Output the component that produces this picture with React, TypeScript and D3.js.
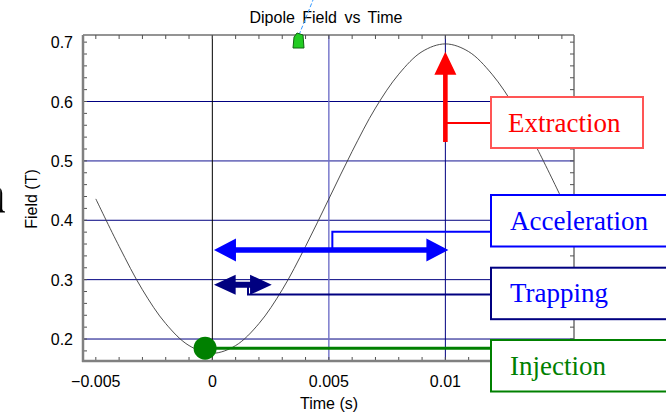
import React from "react";
import * as d3 from "d3";

// dipole field curve (s, T)
const times = [-0.005, -0.004, -0.003, -0.002, -0.001, 0, 0.001, 0.002, 0.003, 0.004, 0.005,
  0.006, 0.007, 0.008, 0.009, 0.01, 0.011, 0.012, 0.013, 0.014, 0.015];
const field = [0.436, 0.356, 0.283, 0.226, 0.189, 0.176, 0.189, 0.226, 0.283, 0.356, 0.436,
  0.516, 0.589, 0.646, 0.684, 0.697, 0.684, 0.646, 0.589, 0.516, 0.436];

const xTicks = [-0.005, 0, 0.005, 0.01];
const xTickLabels = ["\u22120.005", "0", "0.005", "0.01"];
const yTicks = [0.2, 0.3, 0.4, 0.5, 0.6, 0.7];
const yTickLabels = ["0.2", "0.3", "0.4", "0.5", "0.6", "0.7"];
const xGrid = [0, 0.005, 0.01];
const xGridColors = ["#000000", "#7070c8", "#000080"];
const yGrid = [0.2, 0.3, 0.4, 0.5, 0.6];
const yGridColors = ["#000080", "#000080", "#000080", "#7878c0", "#000080"];

// annotation anchors in data units
const extraction = { t: 0.01, from: 0.532, to: 0.684 };
const acceleration = { from: 0.00007, to: 0.01013, b: 0.35 };
const trapping = { from: 0.00007, to: 0.00255, b: 0.2915 };
const injection = { t: -0.00031, b: 0.1845 };

const W = 666, H = 413;
const left = 83, right = 574, top = 35, bottom = 361;

const x = d3.scaleLinear().domain([-0.00555, 0.01552]).range([left, right]);
const y = d3.scaleLinear().domain([0.163, 0.712]).range([bottom, top]);

const sans = "'Liberation Sans', Arial, sans-serif";
const serif = "'Liberation Serif', 'Times New Roman', serif";

function dblArrow(x1: number, x2: number, yy: number, hl: number, hh: number, st: number) {
  const p = [[x1, yy], [x1 + hl, yy - hh], [x1 + hl, yy - st], [x2 - hl, yy - st], [x2 - hl, yy - hh],
    [x2, yy], [x2 - hl, yy + hh], [x2 - hl, yy + st], [x1 + hl, yy + st], [x1 + hl, yy + hh]];
  return p.map(d => d.join(",")).join(" ");
}

export default function App() {
  const line = d3.line<number>()
    .x((d, i) => x(times[i]))
    .y(d => y(d))
    .curve(d3.curveCatmullRom);

  const minorX = d3.range(-5, 16).map(k => k / 1000);
  const minorY = d3.range(9, 36).map(k => k / 50);

  const ex = x(extraction.t);
  const exTip = y(extraction.to), exBot = y(extraction.from);
  const accY = y(acceleration.b);
  const trY = y(trapping.b);
  const injX = x(injection.t), injY = y(injection.b);
  const boxX = 491;

  return (
    <div style={{ position: "fixed", left: 0, top: 0 }}>
      <svg width={W} height={H} style={{ display: "block", background: "#fff" }}>
        {/* fragment of a glyph cut by the left edge */}
        <path d="M0.2,188 Q2.2,190 2.2,193 V209 Q2.4,211 5,211.5 V212.5 H0 Z" fill="#000" />

        {/* grid */}
        {yGrid.map((v, i) => (
          <line key={"gy" + i} x1={left} x2={right} y1={y(v)} y2={y(v)}
            stroke={yGridColors[i]} strokeWidth={i === 3 ? 1.6 : 1} />
        ))}
        {xGrid.map((v, i) => (
          <line key={"gx" + i} x1={x(v)} x2={x(v)} y1={top} y2={bottom}
            stroke={xGridColors[i]} strokeWidth={i === 1 ? 1.4 : 1} />
        ))}

        {/* curve */}
        <path d={line(field) || ""} fill="none" stroke="#3a3a3a" strokeWidth={0.9} />

        {/* frame + ticks */}
        <line x1={left} x2={right} y1={top} y2={top} stroke="#707070" strokeWidth={1.5} />
        <line x1={right} x2={right} y1={top} y2={bottom} stroke="#707070" strokeWidth={1.5} />
        {minorX.map((v, i) => (
          <g key={"mx" + i} stroke="#505050" strokeWidth={1}>
            <line x1={x(v)} x2={x(v)} y1={bottom} y2={bottom - 4} />
            <line x1={x(v)} x2={x(v)} y1={top} y2={top + 4} />
          </g>
        ))}
        {minorY.map((v, i) => (
          <g key={"my" + i} stroke="#505050" strokeWidth={1}>
            <line x1={left} x2={left + 4} y1={y(v)} y2={y(v)} />
            <line x1={right} x2={right - 4} y1={y(v)} y2={y(v)} />
          </g>
        ))}
        <line x1={left} x2={left} y1={top} y2={bottom + 1} stroke="#808080" strokeWidth={2.5} />
        <line x1={left - 1} x2={right} y1={bottom} y2={bottom} stroke="#808080" strokeWidth={2.5} />

        {/* tick labels */}
        {xTicks.map((v, i) => (
          <text key={"xl" + i} x={x(v)} y={386.5} textAnchor="middle" fontFamily={sans} fontSize={16}
            fill="#000">{xTickLabels[i]}</text>
        ))}
        {yTicks.map((v, i) => (
          <text key={"yl" + i} x={73} y={y(v) + 6} textAnchor="end" fontFamily={sans} fontSize={16}
            fill="#000">{yTickLabels[i]}</text>
        ))}

        {/* titles */}
        <text x={326} y={23} textAnchor="middle" fontFamily={sans} fontSize={16} wordSpacing={3}
          fill="#000">Dipole Field vs Time</text>
        <text x={329} y={409} textAnchor="middle" fontFamily={sans} fontSize={16} fill="#000">Time (s)</text>
        <text transform="translate(37,199) rotate(-90)" textAnchor="middle" fontFamily={sans} fontSize={16}
          fill="#000">Field (T)</text>

        {/* pointer from title */}
        <line x1={299} y1={35} x2={313} y2={0} stroke="#3399ff" strokeWidth={1} strokeDasharray="4,2" />
        <polygon points="293,48 294,37 297,33 303,35 304,48" fill="#22cc22" stroke="#116611" strokeWidth={1} />

        {/* connectors */}
        <line x1={ex} x2={boxX} y1={123} y2={123} stroke="#ff0000" strokeWidth={2} />
        <path d={`M${x(0.00515)},${accY} V231.7 H${boxX}`} fill="none" stroke="#0000ff" strokeWidth={2} />
        <path d={`M248,${trY} V294.5 H${boxX}`} fill="none" stroke="#000080" strokeWidth={2} />
        <line x1={injX} x2={boxX} y1={injY} y2={injY} stroke="#008000" strokeWidth={3} />

        {/* arrows */}
        <polygon points={[[ex - 2.3, exBot], [ex - 2.3, exTip + 23], [ex - 11, exTip + 23], [ex, exTip],
          [ex + 11, exTip + 23], [ex + 2.3, exTip + 23], [ex + 2.3, exBot]].map(d => d.join(",")).join(" ")}
          fill="#ff0000" />
        <polygon points={dblArrow(x(acceleration.from), x(acceleration.to), accY, 22, 11.5, 2.8)} fill="#0000ff" />
        <polygon points={dblArrow(x(trapping.from), x(trapping.to), trY, 21.7, 10, 3)} fill="#000080" />
        <circle cx={injX} cy={injY} r={11.5} fill="#008000" />

        {/* label boxes */}
        <rect x={boxX} y={97} width={152} height={51} fill="#fff" stroke="#ff5555" strokeWidth={2} />
        <text x={508} y={132} fontFamily={serif} fontSize={27} fill="#ff0000">Extraction</text>

        <rect x={boxX} y={195} width={200} height={51.5} fill="#fff" stroke="#0000ff" strokeWidth={2} />
        <text x={510} y={230} fontFamily={serif} fontSize={27} fill="#0000ff">Acceleration</text>

        <rect x={boxX} y={267.7} width={200} height={51.5} fill="#fff" stroke="#000080" strokeWidth={2} />
        <text x={510} y={302} fontFamily={serif} fontSize={27} fill="#0000ff">Trapping</text>

        <rect x={boxX} y={340} width={200} height={51.5} fill="#fff" stroke="#008000" strokeWidth={2} />
        <text x={510} y={375} fontFamily={serif} fontSize={27} fill="#008000">Injection</text>
      </svg>
    </div>
  );
}
